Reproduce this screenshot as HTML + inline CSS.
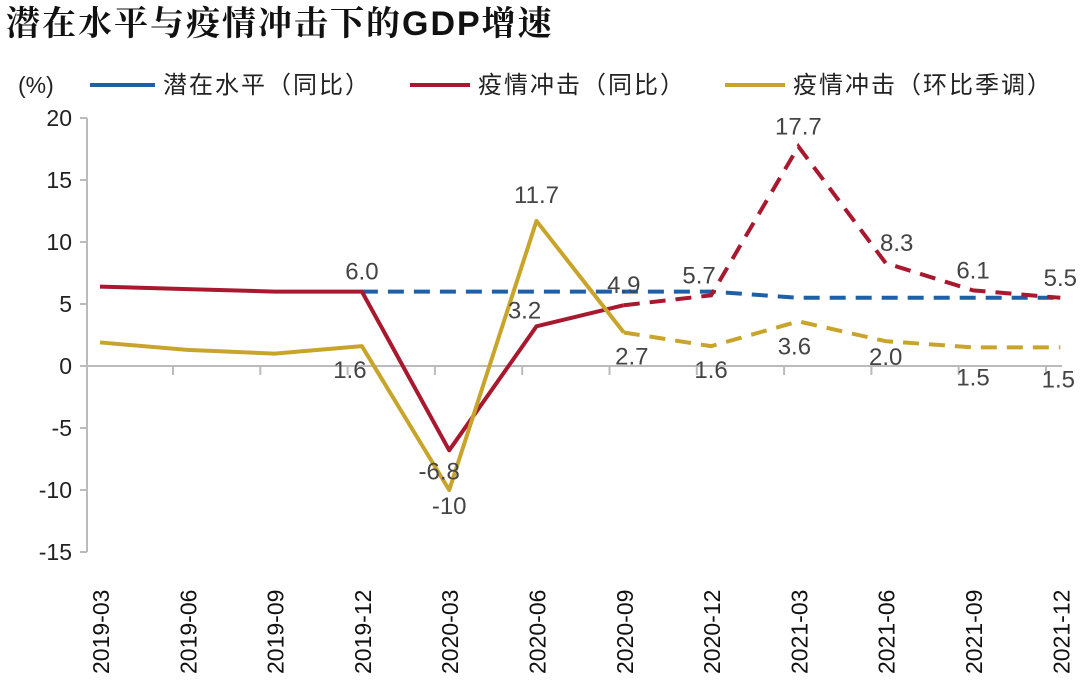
<!DOCTYPE html>
<html><head><meta charset="utf-8"><style>
body{margin:0;background:#fff;}
svg{display:block;font-family:"Liberation Sans","Noto Sans CJK SC",sans-serif;}
</style></head><body>
<svg id="chart" width="1080" height="682" viewBox="0 0 1080 682">
<text x="6" y="35" font-size="34" letter-spacing="2" font-weight="bold" fill="#111" font-family="'Liberation Sans','Noto Serif CJK SC',serif">潜在水平与疫情冲击下的GDP增速</text>
<text x="18" y="93" font-size="23" fill="#222">(%)</text>
<g font-size="24" letter-spacing="2" fill="#222">
<g><line x1="90" y1="85" x2="155" y2="85" stroke="#1f5fa8" stroke-width="4"/><text x="163" y="93">潜在水平（同比）</text></g>
<g><line x1="410" y1="85" x2="470" y2="85" stroke="#a8182e" stroke-width="4"/><text x="478" y="93">疫情冲击（同比）</text></g>
<g><line x1="725" y1="85" x2="785" y2="85" stroke="#c9a42a" stroke-width="4"/><text x="793" y="93">疫情冲击（环比季调）</text></g>
</g>
<g id="axes"></g>
<g id="marks"></g>
<g id="labels" font-size="24" fill="#444" text-anchor="middle"></g>
</svg>
<script>
const categories=["2019-03","2019-06","2019-09","2019-12","2020-03","2020-06","2020-09","2020-12","2021-03","2021-06","2021-09","2021-12"];
const yTicks=[20,15,10,5,0,-5,-10,-15];
const potential=[null,null,null,6.0,6.0,6.0,6.0,6.0,5.5,5.5,5.5,5.5];
const shockYoy=[6.4,6.2,6.0,6.0,-6.8,3.2,4.9,5.7,17.7,8.3,6.1,5.5];
const shockQoq=[1.9,1.3,1.0,1.6,-10,11.7,2.7,1.6,3.6,2.0,1.5,1.5];
const solidUntil=6;
const yoyLabels=[null,null,null,"6.0","-6.8","3.2","4.9","5.7","17.7","8.3","6.1","5.5"];
const qoqLabels=[null,null,null,"1.6","-10","11.7","2.7","1.6","3.6","2.0","1.5","1.5"];

const NS="http://www.w3.org/2000/svg";
const x=i=>100+87.3*i;
const y=v=>366-v*12.4;
function mk(tag,attrs,parent){const e=document.createElementNS(NS,tag);for(const k in attrs)e.setAttribute(k,attrs[k]);parent.appendChild(e);return e;}
const axes=document.getElementById('axes'),marks=document.getElementById('marks'),labels=document.getElementById('labels');
const yax=mk('line',{x1:87,y1:y(20),x2:87,y2:y(-15),stroke:'#bbb','stroke-width':2},axes);


yTicks.forEach(t=>{
 const l=mk('line',{x1:80,y1:y(t),x2:87,y2:y(t),stroke:'#bbb','stroke-width':2},axes);
 
 
 const tx=mk('text',{x:72,y:y(t)+8,'font-size':23,fill:'#222','text-anchor':'end'},axes);
 tx.textContent=t;
 
 
});
const xax=mk('line',{x1:87,y1:y(0),x2:1062,y2:y(0),stroke:'#bbb','stroke-width':2},axes);


categories.forEach((c,i)=>{
 if(i<categories.length-1){
  const tk=mk('line',{x1:x(i)+73,y1:y(0),x2:x(i)+73,y2:y(0)+9,stroke:'#bbb','stroke-width':2},axes);
  
  
 }
 const tx=mk('text',{transform:`translate(${x(i)+9},${674}) rotate(-90)`,'font-size':23,fill:'#111'},axes);
 tx.textContent=c;
 
 
});
function series(vals,color,name,dashFrom){
 const pts=vals.map((v,i)=>v==null?null:[x(i),y(v)]);
 const solid=[],dash=[];
 pts.forEach((p,i)=>{if(!p)return;if(i<=dashFrom)solid.push(p);if(i>=dashFrom)dash.push(p);});
 if(solid.length>1){const s=mk('polyline',{points:solid.map(p=>p.join(',')).join(' '),fill:'none',stroke:color,'stroke-width':4,'stroke-linejoin':'round'},marks);
  
  }
 if(dash.length>1){const d=mk('polyline',{points:dash.map(p=>p.join(',')).join(' '),fill:'none',stroke:color,'stroke-width':4,'stroke-dasharray':'16,10'},marks);
  
  }
}
series(potential,'#1f5fa8','potential-line',0);
series(shockYoy,'#a8182e','shock-yoy-line',solidUntil);
series(shockQoq,'#c9a42a','shock-qoq-line',solidUntil);
const yoyOff=[0,0,0,[0,-12],[-10,0],[-12,0],[0,-12],[-12,-12],[0,-12],[11,-12],[0,-12],[0,-12]];
const qoqOff=[0,0,0,[-12,32],[0,24],[0,-18],[8,32],[0,32],[-4,33],[0,24],[0,38],[-2,40]];
yoyLabels.forEach((t,i)=>{if(!t)return;
 const e=mk('text',{x:x(i)+yoyOff[i][0],y:y(shockYoy[i])+yoyOff[i][1]},labels);
 if(i===4){e.setAttribute('y',y(shockYoy[i])+29);}
 if(i===5){e.setAttribute('y',y(shockYoy[i])-8);}
 e.textContent=t;
 
 
});
qoqLabels.forEach((t,i)=>{if(!t)return;
 const e=mk('text',{x:x(i)+qoqOff[i][0],y:y(shockQoq[i])+qoqOff[i][1]},labels);
 e.textContent=t;
 
 
});
</script>
</body></html>
